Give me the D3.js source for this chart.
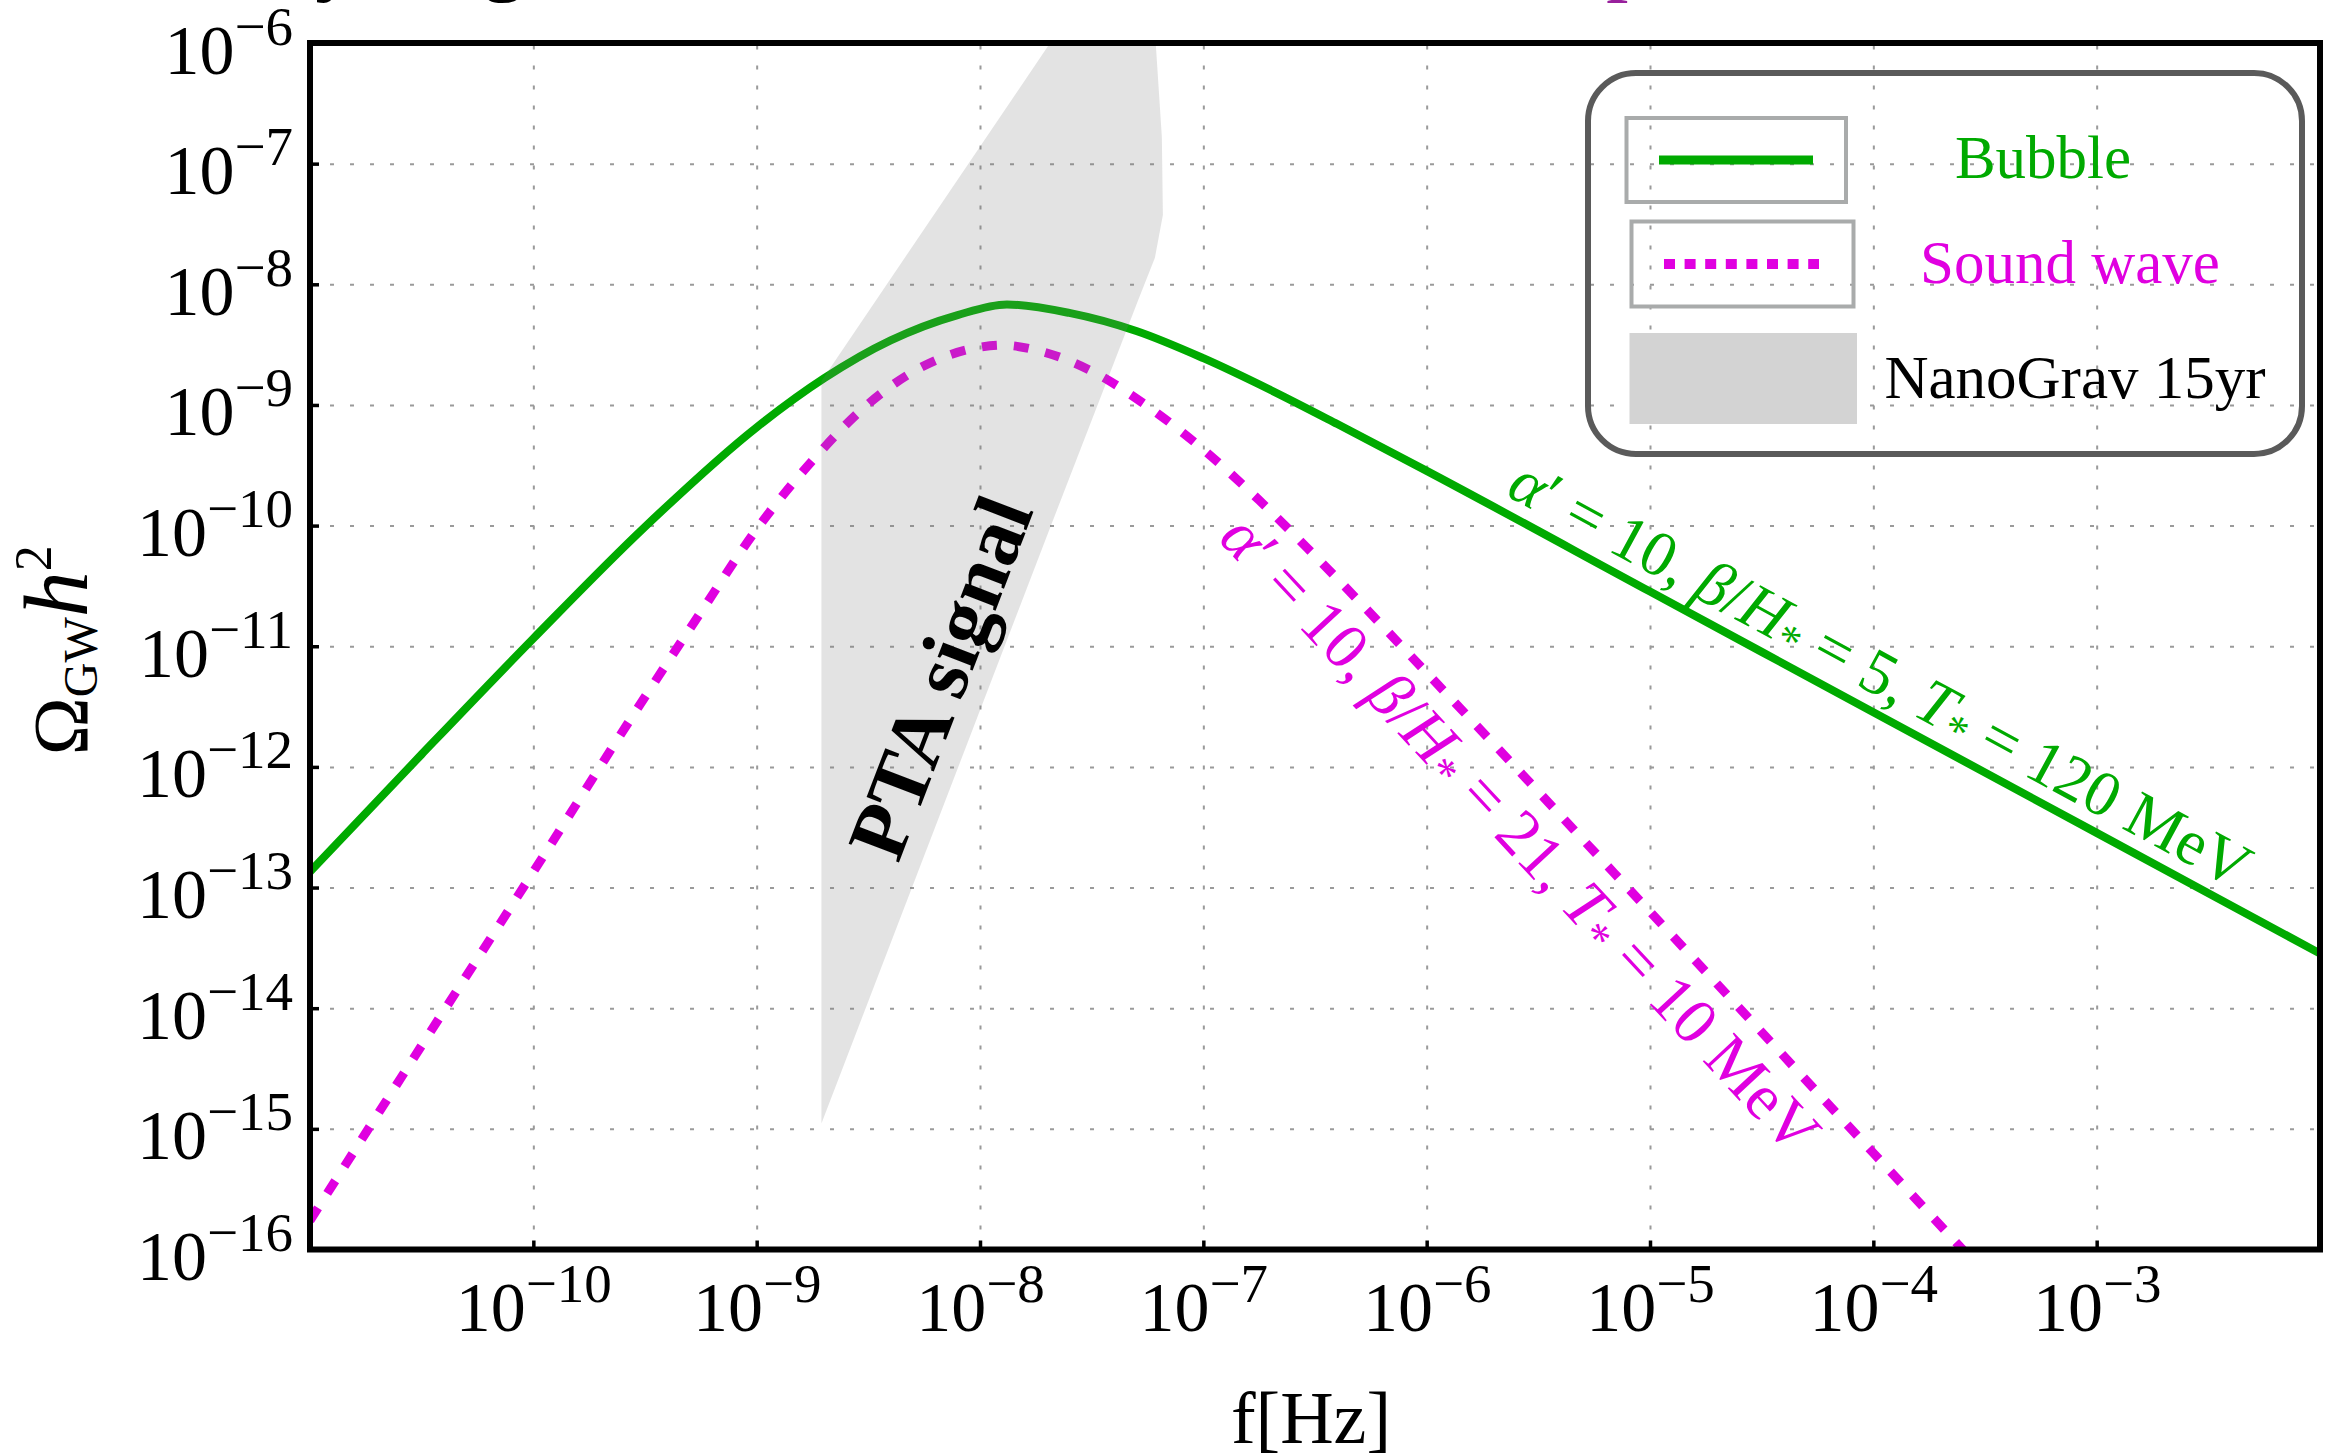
<!DOCTYPE html>
<html>
<head>
<meta charset="utf-8">
<script src="https://cdn.jsdelivr.net/npm/d3@7/dist/d3.min.js"></script>
<style>
	html, body { margin: 0; padding: 0; background: #fff; }
	svg { display: block; }
	text { font-family: "Liberation Serif", "Times New Roman", serif; }
</style>
</head>
<body>
<svg id="chart"></svg>
<script>
// axis ticks
const xTicks = [1e-10, 1e-9, 1e-8, 1e-7, 1e-6, 1e-5, 1e-4, 1e-3];
const yTicks = [1e-6, 1e-7, 1e-8, 1e-9, 1e-10, 1e-11, 1e-12, 1e-13, 1e-14, 1e-15, 1e-16];
const yGrid = [1e-7, 1e-8, 1e-9, 1e-10, 1e-11, 1e-12, 1e-13, 1e-14, 1e-15];

// bubble collision spectrum
const bubbleF = [1e-11, 3.16e-11, 1e-10, 3.16e-10, 1e-9, 2.0e-9, 3.98e-9, 7.94e-9, 1.32e-8, 2.51e-8, 5.01e-8, 1e-7, 2.0e-7, 3.98e-7, 1e-6, 1e-5, 1e-4, 1e-3, 1e-2];
const bubbleOmega = [1.35e-13, 1.27e-12, 1.16e-11, 9.77e-11, 6.53e-10, 1.66e-9, 3.43e-9, 5.56e-9, 6.81e-9, 5.79e-9, 4.10e-9, 2.44e-9, 1.33e-9, 6.95e-10, 2.84e-10, 2.84e-11, 2.84e-12, 2.84e-13, 2.84e-14];

// sound wave spectrum
const soundF = [1e-11, 3.16e-11, 1e-10, 3.16e-10, 5.62e-10, 1e-9, 1.78e-9, 3.16e-9, 5.62e-9, 1e-8, 1.26e-8, 1.78e-8, 3.16e-8, 5.62e-8, 1e-7, 1.78e-7, 3.16e-7, 1e-6, 1e-5, 1e-4, 3.16e-4];
const soundOmega = [1.74e-16, 4.90e-15, 1.35e-13, 3.80e-12, 1.91e-11, 9.33e-11, 3.47e-10, 1.02e-9, 2.11e-9, 3.01e-9, 3.13e-9, 2.85e-9, 1.91e-9, 9.77e-10, 4.27e-10, 1.62e-10, 5.62e-11, 6.03e-12, 6.31e-14, 6.31e-16, 6.31e-17];

// NANOGrav 15yr region (outline)
const ptaF = [1.95e-9, 1.95e-9, 2.06e-8, 6.12e-8, 6.52e-8, 6.59e-8, 6.07e-8, 5.09e-8, 2.06e-8];
const ptaOmega = [1.11e-15, 1.58e-9, 1e-6, 1e-6, 1.66e-7, 3.76e-8, 1.66e-8, 7.28e-9, 9.6e-11];

const green = '#00aa00';
const magenta = '#e000e0';

const width = 2332;
const height = 1455;
const margin = { top: 43, right: 12, bottom: 205.5, left: 310 };
const plotW = width - margin.left - margin.right;
const plotH = height - margin.top - margin.bottom;

const x = d3.scaleLog()
	.domain([1e-11, 1e-2])
	.range([margin.left, margin.left + plotW]);
const y = d3.scaleLog()
	.domain([1e-16, 1e-6])
	.range([margin.top + plotH, margin.top]);

const svg = d3.select('#chart')
	.attr('width', width)
	.attr('height', height)
	.attr('viewBox', [0, 0, width, height]);

svg.append('defs')
	.append('clipPath')
	.attr('id', 'plotClip')
	.append('rect')
	.attr('x', margin.left)
	.attr('y', margin.top)
	.attr('width', plotW)
	.attr('height', plotH);

// title remnants cut off at the top edge
const titleBits = [
	{ t: 'y', fx: 315, fill: '#000' },
	{ t: 'g', fx: 481, fill: '#000' },
	{ t: 'p', fx: 1606, fill: '#98209c' }
];
svg.append('g')
	.selectAll('text')
	.data(titleBits)
	.enter()
		.append('text')
		.attr('x', d => d.fx)
		.attr('y', -16)
		.attr('font-size', 90)
		.attr('fill', d => d.fill)
		.text(d => d.t);

// grid
const grid = svg.append('g');
grid.append('g')
	.attr('transform', `translate(0,${margin.top + plotH})`)
	.call(d3.axisBottom(x).tickValues(xTicks).tickSize(-plotH).tickFormat(''))
	.call(g => g.select('.domain').remove());
grid.append('g')
	.attr('transform', `translate(${margin.left},0)`)
	.call(d3.axisLeft(y).tickValues(yGrid).tickSize(-plotW).tickFormat(''))
	.call(g => g.select('.domain').remove());
grid.selectAll('line')
	.attr('stroke', '#9a9a9a')
	.attr('stroke-width', 2)
	.attr('stroke-dasharray', '4,16');

const plot = svg.append('g').attr('clip-path', 'url(#plotClip)');

const line = d3.line()
	.x(d => x(d.f))
	.y(d => y(d.o))
	.curve(d3.curveMonotoneX);

const bubble = bubbleF.map((f, i) => ({ f: f, o: bubbleOmega[i] }));
const sound = soundF.map((f, i) => ({ f: f, o: soundOmega[i] }));
const pta = ptaF.map((f, i) => ({ f: f, o: ptaOmega[i] }));

plot.append('path')
	.datum(bubble)
	.attr('d', line)
	.attr('fill', 'none')
	.attr('stroke', green)
	.attr('stroke-width', 8);

plot.append('path')
	.datum(sound)
	.attr('d', line)
	.attr('fill', 'none')
	.attr('stroke', magenta)
	.attr('stroke-width', 9)
	.attr('stroke-dasharray', '15,17');

// PTA band sits over the curves, translucent
plot.append('path')
	.datum(pta)
	.attr('d', d3.line().x(d => x(d.f)).y(d => y(d.o)).curve(d3.curveLinearClosed))
	.attr('fill', '#7b7b7b')
	.attr('fill-opacity', 0.21);

plot.append('text')
	.attr('transform', `translate(${x(6.65e-9)},${y(5.5e-12)}) rotate(-69)`)
	.attr('text-anchor', 'middle')
	.attr('dominant-baseline', 'central')
	.attr('font-size', 82)
	.attr('font-weight', 'bold')
	.text('PTA signal');

// parameter labels along the curves
function richText(sel, parts) {
	let shift = 0;
	parts.forEach(p => {
		const ts = sel.append('tspan').text(p.t);
		if (p.i) ts.attr('font-style', 'italic');
		if (p.sub) {
			ts.attr('font-size', '0.7em').attr('dy', 15 - shift);
			shift = 15;
		} else if (shift) {
			ts.attr('dy', -shift);
			shift = 0;
		}
	});
}

function curveAngle(f1, o1, f2, o2) {
	return Math.atan2(y(o2) - y(o1), x(f2) - x(f1)) * 180 / Math.PI;
}

const bubbleLabel = [
	{ t: 'α', i: 1 }, { t: '′ = 10, ' }, { t: 'β', i: 1 }, { t: '/' }, { t: 'H', i: 1 }, { t: '*', sub: 1 },
	{ t: ' = 5, ' }, { t: 'T', i: 1 }, { t: '*', sub: 1 }, { t: ' = 120 MeV' }
];
const soundLabel = [
	{ t: 'α', i: 1 }, { t: '′ = 10, ' }, { t: 'β', i: 1 }, { t: '/' }, { t: 'H', i: 1 }, { t: '*', sub: 1 },
	{ t: ' = 21, ' }, { t: 'T', i: 1 }, { t: '*', sub: 1 }, { t: ' = 10 MeV' }
];

const gAng = curveAngle(1e-5, 2.84e-11, 1e-3, 2.84e-13);
plot.append('text')
	.attr('transform', `translate(${x(1.08e-4)},${y(6.0e-12)}) rotate(${gAng})`)
	.attr('text-anchor', 'middle')
	.attr('dominant-baseline', 'central')
	.attr('font-size', 64)
	.attr('fill', green)
	.call(richText, bubbleLabel);

const mAng = curveAngle(1e-6, 6.03e-12, 1e-4, 6.31e-16);
plot.append('text')
	.attr('transform', `translate(${x(2.64e-6)},${y(2.8e-13)}) rotate(${mAng})`)
	.attr('text-anchor', 'middle')
	.attr('dominant-baseline', 'central')
	.attr('font-size', 65)
	.attr('fill', magenta)
	.call(richText, soundLabel);

// legend
const legend = svg.append('g');
legend.append('rect')
	.attr('x', 1588).attr('y', 73)
	.attr('width', 714).attr('height', 381)
	.attr('rx', 48)
	.attr('fill', 'none')
	.attr('stroke', '#5a5a5a')
	.attr('stroke-width', 6);
legend.append('rect')
	.attr('x', 1626.5).attr('y', 118)
	.attr('width', 219.5).attr('height', 84)
	.attr('fill', 'none')
	.attr('stroke', '#a9abab')
	.attr('stroke-width', 4);
legend.append('line')
	.attr('x1', 1659).attr('x2', 1813)
	.attr('y1', 160).attr('y2', 160)
	.attr('stroke', green)
	.attr('stroke-width', 9);
legend.append('rect')
	.attr('x', 1631.5).attr('y', 221.5)
	.attr('width', 222).attr('height', 85)
	.attr('fill', 'none')
	.attr('stroke', '#a9abab')
	.attr('stroke-width', 4);
legend.append('line')
	.attr('x1', 1664).attr('x2', 1819)
	.attr('y1', 264).attr('y2', 264)
	.attr('stroke', magenta)
	.attr('stroke-width', 10)
	.attr('stroke-dasharray', '11,9.6');
legend.append('rect')
	.attr('x', 1629.5).attr('y', 333)
	.attr('width', 227.5).attr('height', 91)
	.attr('fill', '#d3d3d3');

const legendText = [
	{ t: 'Bubble', cx: 2043, by: 178, fill: green },
	{ t: 'Sound wave', cx: 2070, by: 283, fill: magenta },
	{ t: 'NanoGrav 15yr', cx: 2075, by: 398, fill: '#000' }
];
legend.selectAll('text.lg')
	.data(legendText)
	.enter()
		.append('text')
		.attr('class', 'lg')
		.attr('x', d => d.cx)
		.attr('y', d => d.by)
		.attr('text-anchor', 'middle')
		.attr('font-size', 61)
		.attr('fill', d => d.fill)
		.text(d => d.t);

// frame
svg.append('rect')
	.attr('x', margin.left)
	.attr('y', margin.top)
	.attr('width', plotW)
	.attr('height', plotH)
	.attr('fill', 'none')
	.attr('stroke', '#000')
	.attr('stroke-width', 6);

// axes (inward ticks, power-of-ten labels)
function powerLabel(sel) {
	sel.each(function (v) {
		const t = d3.select(this);
		t.append('tspan').text('10');
		t.append('tspan')
			.attr('font-size', 55)
			.attr('dy', -29)
			.text('\u2212' + Math.abs(Math.round(Math.log10(v))));
	});
}

const xAxis = svg.append('g')
	.attr('transform', `translate(0,${margin.top + plotH})`)
	.call(d3.axisBottom(x).tickValues(xTicks).tickSizeInner(-9).tickSizeOuter(0).tickFormat(''));
const yAxis = svg.append('g')
	.attr('transform', `translate(${margin.left},0)`)
	.call(d3.axisLeft(y).tickValues(yTicks).tickSizeInner(-9).tickSizeOuter(0).tickFormat(''));
[xAxis, yAxis].forEach(a => {
	a.select('.domain').remove();
	a.selectAll('line').attr('stroke', '#000').attr('stroke-width', 3.5);
	a.selectAll('text').remove();
});

xAxis.selectAll('.tick')
	.append('text')
	.attr('y', 81)
	.attr('text-anchor', 'middle')
	.attr('font-size', 70)
	.attr('fill', '#000')
	.call(powerLabel);

yAxis.selectAll('.tick')
	.append('text')
	.attr('x', -17)
	.attr('y', 30)
	.attr('text-anchor', 'end')
	.attr('font-size', 70)
	.attr('fill', '#000')
	.call(powerLabel);

// axis titles
svg.append('text')
	.attr('x', x(Math.sqrt(1e-11 * 1e-2)) - 4)
	.attr('y', 1443)
	.attr('text-anchor', 'middle')
	.attr('font-size', 74)
	.text('f[Hz]');

const yTitle = svg.append('text')
	.attr('transform', `translate(87,${margin.top + plotH / 2 + 4}) rotate(-90)`)
	.attr('text-anchor', 'middle')
	.attr('font-size', 78);
yTitle.append('tspan').text('Ω');
yTitle.append('tspan').attr('font-size', 48).attr('dy', 10).text('GW');
yTitle.append('tspan').attr('font-style', 'italic').attr('font-size', 92).attr('dy', -10).text('h');
yTitle.append('tspan').attr('font-size', 52).attr('dy', -36).text('2');
</script>
</body>
</html>
